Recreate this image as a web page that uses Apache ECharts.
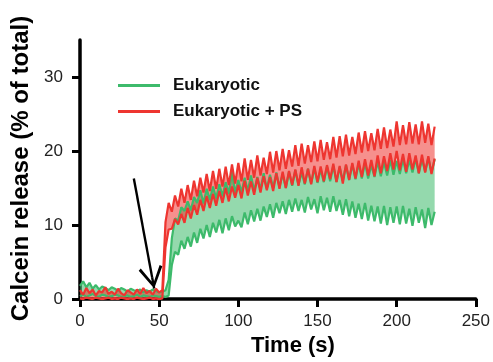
<!DOCTYPE html>
<html>
<head>
<meta charset="utf-8">
<script src="https://cdn.jsdelivr.net/npm/echarts@6/dist/echarts.min.js"></script>
<style>html,body{margin:0;padding:0;background:#fff}#c{width:493px;height:362px}</style>
</head>
<body>
<div id="c"></div>
<script>
// ---- data ----
var times = [0,2,4,6,8,10,12,14,16,18,20,22,24,26,28,30,32,34,36,38,40,42,44,46,48,50,52,
  54,56,58,60,62,64,66,68,70,72,74,76,78,80,82,84,86,88,90,92,94,96,98,100,102,104,106,108,110,112,
  114,116,118,120,122,124,126,128,130,132,134,136,138,140,142,144,146,148,150,152,154,156,158,160,162,164,166,168,170,172,
  174,176,178,180,182,184,186,188,190,192,194,196,198,200,202,204,206,208,210,212,214,216,218,220,222,224];

var greenLow = [0.4,0.6,0.3,0.5,0.7,0.4,0.3,0.6,0.5,0.3,0.4,0.6,0.5,0.3,0.4,0.5,0.3,0.4,0.6,0.3,0.5,0.4,0.3,0.5,0.4,0.3,0.4,
  0.3,0.5,4.6,6.4,6.0,7.9,6.8,8.4,7.1,9.0,
  7.6,9.5,8.2,10.0,8.4,10.3,9.0,10.7,8.9,10.9,
  9.3,11.2,9.8,10.6,9.7,11.7,10.1,12.0,10.5,12.2,
  10.6,12.5,11.1,12.8,11.0,13.0,11.6,13.2,11.5,13.4,
  11.8,13.6,11.9,13.4,11.7,13.8,12.1,13.5,11.6,13.9,
  12.0,13.7,11.8,13.9,11.9,13.4,11.4,13.5,11.2,13.2,
  11.0,12.9,10.8,13.0,10.6,12.6,10.5,12.5,10.2,12.6,
  10.0,12.4,10.3,12.5,10.1,12.6,10.2,12.2,9.9,12.4,
  10.3,12.1,9.6,12.3,10.0,11.8];

var greenHigh = [1.8,2.4,1.6,2.2,1.4,1.9,1.3,1.7,1.5,1.2,1.6,1.4,1.1,1.5,1.3,1.0,1.4,1.2,1.1,1.3,0.9,1.2,1.0,1.3,1.1,0.9,1.0,
  1.2,2.6,8.2,10.9,10.6,12.4,11.9,13.2,12.0,13.8,
  13.0,14.7,12.9,14.9,13.4,15.2,13.6,15.5,13.9,15.8,
  14.2,17.2,14.3,16.1,14.4,16.4,14.6,16.7,14.6,16.5,
  14.8,17.0,14.9,16.8,15.0,17.1,15.1,16.9,15.0,17.2,
  15.3,17.4,15.4,17.1,15.5,17.6,15.6,17.7,15.7,17.5,
  15.8,17.9,15.9,18.0,15.8,17.8,16.0,18.1,16.1,18.2,
  16.2,18.3,16.3,18.4,16.3,18.1,16.5,18.6,16.6,18.5,
  16.7,18.8,16.8,18.7,16.9,18.9,17.0,18.8,17.1,19.0,
  17.0,18.9,17.2,19.1,17.1,18.9];

var redLow = [0.1,0.0,0.2,0.1,0.0,0.2,0.1,0.0,0.1,0.2,0.0,0.1,0.0,0.2,0.1,0.0,0.1,0.0,0.2,0.1,0.0,0.1,0.2,0.0,0.1,0.0,0.1,
  7.0,9.4,9.5,10.8,10.1,11.5,10.3,12.3,10.9,12.7,
  11.4,13.4,11.9,13.9,12.3,14.2,12.6,14.6,13.0,15.0,
  13.2,15.2,13.7,15.4,13.6,16.0,14.0,15.9,14.1,16.4,
  14.4,16.6,14.7,16.5,14.6,17.0,14.9,17.2,15.0,17.3,
  15.4,17.5,15.3,17.8,15.6,17.6,15.5,18.0,15.8,17.9,
  15.9,18.1,16.2,18.3,15.8,18.0,15.6,18.2,16.1,18.4,
  16.3,18.7,16.5,18.9,16.7,18.8,16.6,19.4,17.0,19.3,
  17.3,19.7,17.5,20.0,17.4,19.6,17.2,19.7,17.5,19.4,
  17.0,19.5,17.1,19.3,16.9,19.0];

var redHigh = [1.2,0.6,1.5,0.8,1.3,0.5,1.1,0.9,1.6,0.7,1.0,0.6,1.4,0.8,0.5,1.2,0.9,0.6,1.3,0.7,1.5,0.8,1.1,0.6,1.4,0.9,1.2,
  10.4,13.0,11.8,14.0,12.5,14.9,13.0,15.4,13.4,16.0,
  13.9,16.4,14.4,16.9,14.6,17.3,14.9,17.6,15.2,17.9,
  15.4,18.2,15.6,18.4,15.9,19.0,16.1,18.8,16.4,19.4,
  16.7,19.1,16.9,19.9,17.1,20.0,17.4,20.3,17.6,20.1,
  17.9,20.8,18.0,21.0,18.3,20.8,18.5,21.3,18.6,21.5,
  18.8,21.2,18.9,21.9,19.1,22.0,19.3,22.2,19.4,21.9,
  19.6,22.5,19.8,22.7,20.0,22.4,20.1,23.0,20.3,23.2,
  20.4,22.9,20.6,24.0,20.8,23.5,20.9,23.9,21.0,23.6,
  20.9,24.0,21.1,23.7,20.8,23.3];

var seriesNames = ['Eukaryotic', 'Eukaryotic + PS'];
var xTicks = [0, 50, 100, 150, 200, 250];
var yTicks = [0, 10, 20, 30];
var xTitle = 'Time (s)';
var yTitle = 'Calcein release (% of total)';
// annotation arrow (data coordinates: start, end)
var arrowFrom = [34, 16.3];
var arrowTo = [45.6, 2.9];

// ---- build ----
function pairs(xs, ys) { return xs.map(function (x, i) { return [x, ys[i]]; }); }

var GREEN = '#3dba6b', RED = '#ee3530';
var FONT = '"Liberation Sans", Arial, Helvetica, sans-serif';

function bandSeries(lo, hi, fill) {
  return {
    type: 'custom', silent: true,
    data: pairs(times, hi),
    encode: { x: 0, y: 1 },
    renderItem: function (params, api) {
      if (params.dataIndex !== 0) return null;
      var pts = [], i;
      for (i = 0; i < times.length; i++) pts.push(api.coord([times[i], hi[i]]));
      for (i = times.length - 1; i >= 0; i--) pts.push(api.coord([times[i], lo[i]]));
      return { type: 'polygon', shape: { points: pts }, style: { fill: fill } };
    }
  };
}
function lineSeries(name, ys, color) {
  return { name: name, type: 'line', symbol: 'none', data: pairs(times, ys),
    lineStyle: { color: color, width: 2.2 }, itemStyle: { color: color } };
}

var redLowLine = lineSeries(seriesNames[1], redLow, RED);
redLowLine.markLine = {
  silent: true, animation: false,
  symbol: ['none', 'path://M10,0 L20,18 L18,19.5 L10,4.5 L2,19.5 L0,18 Z M9,0 L11,0 L11,10 L9,10 Z'],
  symbolSize: [24, 22],
  lineStyle: { color: '#000', width: 2.4, type: 'solid' },
  label: { show: false },
  data: [[{ coord: arrowFrom }, { coord: arrowTo }]]
};

var chart = echarts.init(document.getElementById('c'), null, { renderer: 'canvas' });
chart.setOption({
  animation: false,
  textStyle: { fontFamily: FONT },
  grid: { left: 80, right: 16, top: 40, bottom: 57, containLabel: false },
  legend: {
    orient: 'vertical', left: 118, top: 77, padding: 0, itemWidth: 42, itemHeight: 3, itemGap: 9,
    icon: 'rect',
    data: seriesNames,
    textStyle: { fontSize: 17, fontWeight: 'bold', color: '#111', fontFamily: FONT, padding: [0, 0, 0, 8] }
  },
  xAxis: {
    type: 'value', min: 0, max: 250, interval: 50,
    axisLine: { lineStyle: { color: '#000', width: 3.5 } },
    axisTick: { length: 8, lineStyle: { color: '#000', width: 3 }, customValues: xTicks },
    axisLabel: { fontSize: 17, color: '#222', margin: 14, customValues: xTicks },
    splitLine: { show: false },
    name: xTitle, nameLocation: 'middle', nameGap: 34,
    nameTextStyle: { fontSize: 22, fontWeight: 'bold', color: '#000', padding: [0, 0, 0, 30] }
  },
  yAxis: {
    type: 'value', min: 0, max: 35, interval: 10,
    axisLine: { show: true, lineStyle: { color: '#000', width: 3.5 } },
    axisTick: { show: true, length: 8, lineStyle: { color: '#000', width: 3 }, customValues: yTicks },
    axisLabel: { fontSize: 17, color: '#222', margin: 17, customValues: yTicks },
    splitLine: { show: false },
    name: yTitle, nameLocation: 'middle', nameGap: 44,
    nameTextStyle: { fontSize: 24, fontWeight: 'bold', color: '#000', padding: [0, 0, 0, 2] }
  },
  series: [
    bandSeries(greenLow, greenHigh, 'rgba(60,185,106,0.55)'),
    lineSeries(seriesNames[0], greenLow, GREEN),
    lineSeries(seriesNames[0], greenHigh, GREEN),
    bandSeries(redLow, redHigh, 'rgba(239,53,48,0.55)'),
    redLowLine,
    lineSeries(seriesNames[1], redHigh, RED)
  ]
});
</script>
</body>
</html>
